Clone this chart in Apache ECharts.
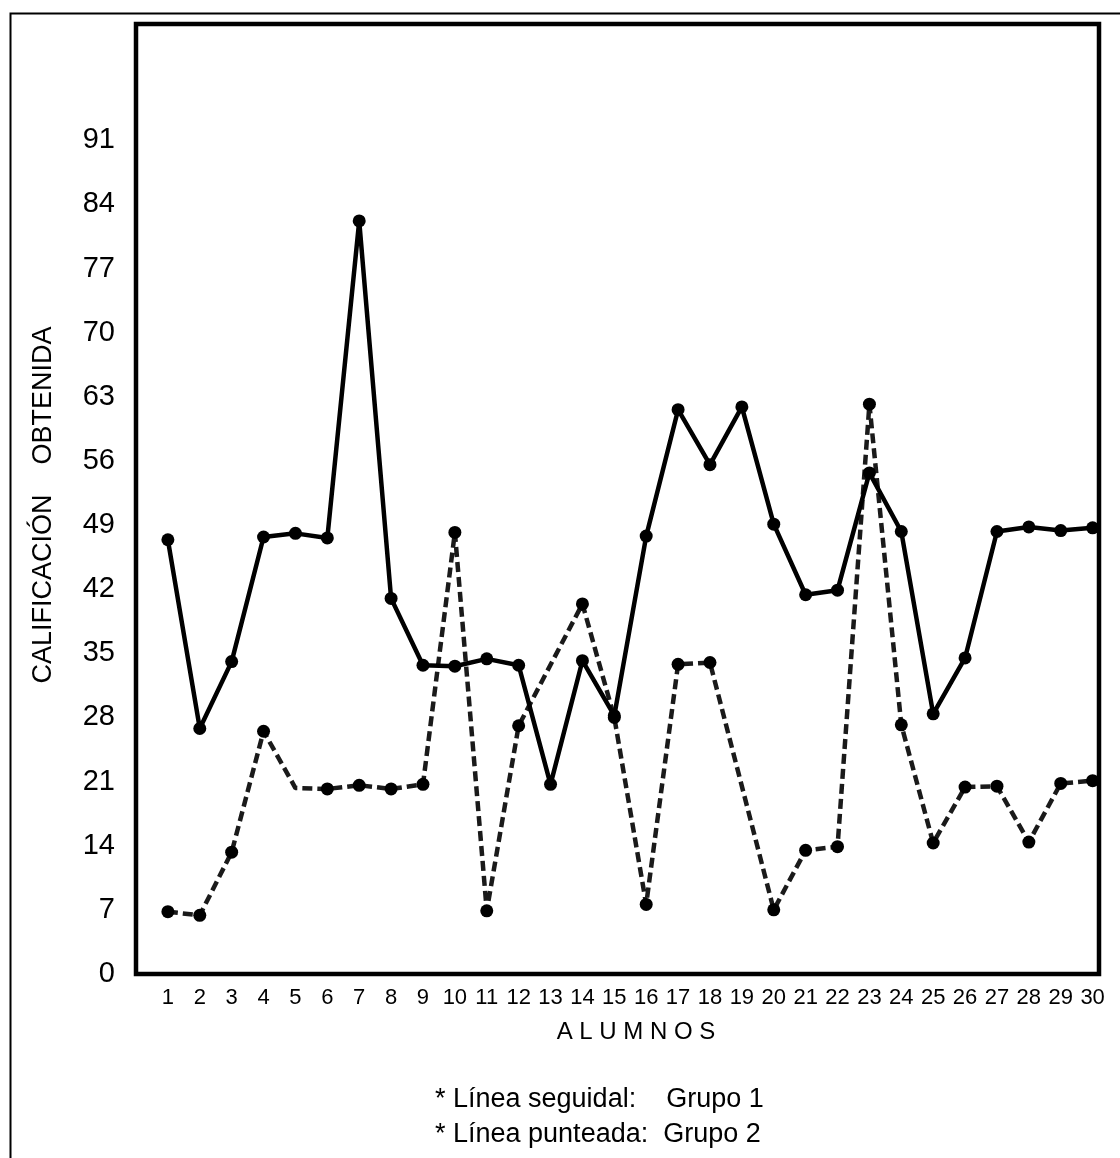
<!DOCTYPE html>
<html>
<head>
<meta charset="utf-8">
<script src="https://cdn.jsdelivr.net/npm/echarts@6/dist/echarts.min.js"></script>
<style>
html,body{margin:0;padding:0;background:#fff;}
#chart{width:1120px;height:1158px;}
</style>
</head>
<body>
<div id="chart"></div>
<script>
// Data
var alumnos = [1,2,3,4,5,6,7,8,9,10,11,12,13,14,15,16,17,18,19,20,21,22,23,24,25,26,27,28,29,30];
var grupo1 = [47.4,26.8,34.1,47.7,48.1,47.6,82.2,41.0,33.7,33.6,34.4,33.7,20.7,34.2,28.2,47.8,61.6,55.6,61.9,49.1,41.4,41.9,54.7,48.3,28.4,34.5,48.3,48.8,48.4,48.7];
var grupo2 = [6.8,6.4,13.3,26.5,20.3,20.2,20.6,20.2,20.7,48.2,6.9,27.1,null,40.4,28.0,7.6,33.8,34.0,null,7.0,13.5,13.9,62.2,27.2,14.3,20.4,20.5,14.4,20.8,21.1];
var grupo2SinMarca = [5]; // vertices drawn without a dot
var yTicks = [0,7,14,21,28,35,42,49,56,63,70,77,84,91];
var yTitle = 'CALIFICACIÓN    OBTENIDA';
var xTitle = 'A L U M N O S';
var notas = ['* Línea seguidal:    Grupo 1', '* Línea punteada:  Grupo 2'];

var FONT = 'Liberation Sans, Arial, sans-serif';
var chart = echarts.init(document.getElementById('chart'));

var s1 = alumnos.map(function(a,i){ return [a, grupo1[i]]; });
var s2 = alumnos.map(function(a,i){
  var v = grupo2[i];
  if (v === null) return [a, null];
  if (grupo2SinMarca.indexOf(a) >= 0) return {value:[a, v], symbol:'none'};
  return [a, v];
});

chart.setOption({
  animation:false,
  backgroundColor:'#fff',
  grid:{left:136, top:24, width:963, height:950, show:true, borderColor:'#000', borderWidth:4.5, backgroundColor:'transparent'},
  xAxis:{
    type:'value', min:0, max:30.2, interval:1,
    axisLine:{show:false}, axisTick:{show:false}, splitLine:{show:false},
    axisLabel:{
      fontFamily:FONT, fontSize:22, color:'#000', margin:13,
      formatter:function(v){ return alumnos.indexOf(v) >= 0 ? String(v) : ''; }
    }
  },
  yAxis:{
    type:'value', min:0, max:103.7, interval:7,
    axisLine:{show:false}, axisTick:{show:false}, splitLine:{show:false},
    axisLabel:{
      fontFamily:FONT, fontSize:29, color:'#000', margin:21,
      formatter:function(v){ return yTicks.indexOf(v) >= 0 ? String(v) : ''; }
    }
  },
  graphic:[
    {type:'rect', left:8, top:11, shape:{width:1200, height:1200}, style:{fill:'none', stroke:'#000', lineWidth:2}, z:-1, silent:true},
    {type:'text', x:44, y:505, rotation:Math.PI/2, style:{text:yTitle, fontFamily:FONT, fontSize:27, fill:'#000', textAlign:'center', textVerticalAlign:'middle'}},
    {type:'text', x:636, y:1032, style:{text:xTitle, fontFamily:FONT, fontSize:24, fill:'#000', textAlign:'center', textVerticalAlign:'middle'}},
    {type:'text', x:435, y:1100, style:{text:notas[0], fontFamily:FONT, fontSize:27, fill:'#000', textAlign:'left', textVerticalAlign:'middle'}},
    {type:'text', x:435, y:1135, style:{text:notas[1], fontFamily:FONT, fontSize:27, fill:'#000', textAlign:'left', textVerticalAlign:'middle'}}
  ],
  series:[
    {name:'Grupo 1', type:'line', data:s1, symbol:'circle', symbolSize:13,
     lineStyle:{color:'#000', width:4.5, type:'solid'}, itemStyle:{color:'#000'}, z:3},
    {name:'Grupo 2', type:'line', data:s2, connectNulls:true, symbol:'circle', symbolSize:13,
     lineStyle:{color:'#1a1a1a', width:4.5, type:[10,5]}, itemStyle:{color:'#000'}, z:2}
  ]
});
</script>
</body>
</html>
